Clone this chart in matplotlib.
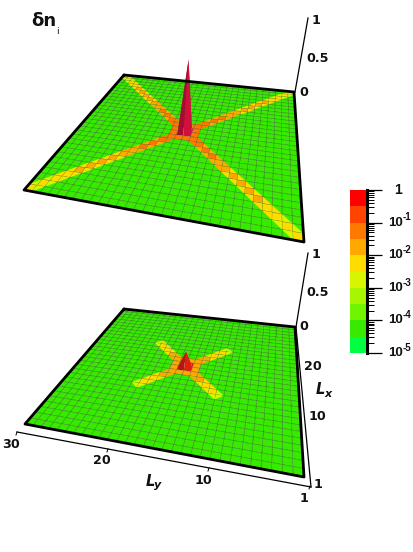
import numpy as np
import matplotlib
matplotlib.use("Agg")
import matplotlib.pyplot as plt
from matplotlib.collections import PolyCollection
from matplotlib.colors import to_rgb
from matplotlib.ticker import LogLocator, NullFormatter

# colour bands of the bar, bottom to top
band_colors = ["#00ff40", "#38ea00", "#70f500", "#a8f500", "#d8f500",
               "#ffdc00", "#ffa800", "#ff7800", "#ff4400", "#ff0000"]
band_edges = [1e-5, 10**-4.5, 1e-4, 10**-3.5, 1e-3, 10**-2.5, 1e-2, 10**-1.5, 1e-1, 10**-0.5, 1]
cbar_ticks = [1e-5, 1e-4, 1e-3, 1e-2, 1e-1]
cbar_exps = ["-5", "-4", "-3", "-2", "-1"]

# log10 of the density along each arm, from the centre out to the corner
arm_top = [0, -0.95, -1.05, -1.15, -1.3, -1.45, -1.55, -1.65, -1.75, -1.85, -1.9, -1.95, -2.05, -2.2, -2.3, -2.35]
arm_bottom = [-0.7, -1.3, -1.55, -1.8, -2.1, -2.35, -4.3, -4.3, -4.3, -4.3, -4.3, -4.3, -4.3, -4.3, -4.3, -4.3]
# log10 of the centre's neighbours on the lattice axes
cross_top = [-1.0, -4.3]
cross_bottom = [-1.9, -4.3]
background = -4.3
fringe_factor = 0.4

n_cells = 30
z_px = 72.0

# plane corners in pixels: back left, back right, front right, front left
top_corners = [(124, 75), (294, 92), (304, 242), (24, 190)]
bottom_corners = [(124, 309), (295, 327), (304, 477), (25, 424)]


def homography(corners):
    src = [(0, 0), (1, 0), (1, 1), (0, 1)]
    A, b = [], []
    for (u, v), (x, y) in zip(src, corners):
        A.append([u, v, 1, 0, 0, 0, -u * x, -v * x])
        A.append([0, 0, 0, u, v, 1, -u * y, -v * y])
        b += [x, y]
    return np.append(np.linalg.solve(A, b), 1).reshape(3, 3)


def build_field(arm, cross):
    field = np.full((n_cells + 1, n_cells + 1), float(background))
    mid = n_cells // 2
    for k, val in enumerate(arm):
        for sr in (-1, 1):
            for sc in (-1, 1):
                field[mid + sr * k, mid + sc * k] = val
    for k, val in enumerate(cross, start=1):
        field[mid + k, mid] = field[mid - k, mid] = val
        field[mid, mid + k] = field[mid, mid - k] = val
    return field


def band_color(val):
    idx = np.searchsorted(band_edges, val) - 1
    return to_rgb(band_colors[int(np.clip(idx, 0, 9))])


def draw_surface(ax, corners, arm, cross, spike_color):
    H = homography(corners)
    field = build_field(arm, cross)
    height = 10.0 ** field
    bg = 10.0 ** background
    uu, vv = np.meshgrid(np.linspace(0, 1, n_cells + 1), np.linspace(0, 1, n_cells + 1))
    w = H[2, 0] * uu + H[2, 1] * vv + H[2, 2]
    px = (H[0, 0] * uu + H[0, 1] * vv + H[0, 2]) / w
    py = (H[1, 0] * uu + H[1, 1] * vv + H[1, 2]) / w
    raised = np.where(height > 0.12, height, 0)
    px = px + 0.05 * z_px * raised
    py = py - z_px * raised

    cells = [(r, c) for r in range(n_cells) for c in range(n_cells)]
    cells.sort(key=lambda rc: (rc[0], -abs(rc[1] - 14.5)))
    polys, faces, edges = [], [], []
    no_edge = (0, 0, 0, 0)
    for r, c in cells:
        ids = [(r, c), (r, c + 1), (r + 1, c + 1), (r + 1, c)]
        polys.append([(px[i], py[i]) for i in ids])
        vals = np.array([height[i] for i in ids])
        top_two = np.sort(vals)
        if max(raised[i] for i in ids) > 0:
            shade = 0.78 if c < n_cells / 2 else 1.0
            faces.append(tuple(shade * x for x in to_rgb(spike_color)))
            edges.append(no_edge)
            continue
        # a cell takes the colour of its second highest corner
        faces.append(band_color(top_two[-2]))
        edges.append((0.05, 0.2, 0.05, 0.4))
        # one high corner only: a triangle at that corner fills the notch in the arm
        if top_two[-1] > 3 * bg and top_two[-2] <= bg:
            k = int(np.argmax(vals))
            tri = [ids[k - 1], ids[k], ids[(k + 1) % 4]]
            polys.append([(px[i], py[i]) for i in tri])
            faces.append(band_color(top_two[-1] * fringe_factor))
            edges.append(no_edge)
    ax.add_collection(PolyCollection(polys, facecolors=faces, edgecolors=edges, linewidths=0.4))
    xs = [p[0] for p in corners] + [corners[0][0]]
    ys = [p[1] for p in corners] + [corners[0][1]]
    ax.plot(xs, ys, color="black", lw=2.0, solid_capstyle="round")


fig = plt.figure(figsize=(4.13, 5.52), dpi=100)
ax = fig.add_axes([0, 0, 1, 1])
ax.set_xlim(0, 413)
ax.set_ylim(552, 0)
ax.axis("off")

draw_surface(ax, top_corners, arm_top, cross_top, "#d2103e")
draw_surface(ax, bottom_corners, arm_bottom, cross_bottom, "#e0200f")

label = dict(fontsize=9.2, fontweight="bold", color="#111111", ha="center", va="center")

# z axes
ax.plot([295, 308], [92, 18], color="black", lw=0.9)
ax.plot([296, 308], [327, 253], color="black", lw=0.9)
for x, y, lab in [(316, 20, "1"), (318, 58, "0.5"), (304, 93, "0"),
                  (316, 254, "1"), (318, 293, "0.5"), (304, 327, "0")]:
    ax.text(x, y, lab, **label)

# lower axes of the bottom panel
ax.plot([296, 311], [327, 487], color="black", lw=0.9)
ax.plot([17, 311], [432, 487], color="black", lw=0.9)
for x, y, lab in [(11, 444, "30"), (102, 461, "20"), (203, 480, "10"), (304, 498, "1")]:
    ax.text(x, y, lab, **label)
    ax.plot([x + 6, x + 5], [y - 12, y - 9], color="black", lw=0.7)
for x, y, lab in [(318, 484, "1"), (317, 417, "10"), (313, 367, "20")]:
    ax.text(x, y, lab, **label)

axis_label = dict(fontweight="bold", fontstyle="italic", color="#111111", ha="center", va="center")
ax.text(150, 481, "L", fontsize=10.5, **axis_label)
ax.text(158, 485, "y", fontsize=8, **axis_label)
ax.text(320, 390, "L", fontsize=10.5, **axis_label)
ax.text(328, 394, "x", fontsize=8, **axis_label)

ax.text(31, 21, "δn", fontsize=13, ha="left", va="center", color="#111111", fontweight="bold")
ax.text(56, 32, "i", fontsize=6.5, ha="left", va="center", color="#111111")

# colour bar
cax = fig.add_axes([350 / 413, 1 - 353 / 552, 17 / 413, 163 / 552])
for lo, hi, col in zip(band_edges[:-1], band_edges[1:], band_colors):
    cax.axhspan(lo, hi, color=col, lw=0)
cax.set_yscale("log")
cax.set_ylim(1e-5, 1)
cax.set_xlim(0, 1)
cax.set_xticks([])
cax.yaxis.tick_right()
cax.set_yticks(cbar_ticks + [1])
cax.set_yticklabels([""] * 6)
cax.tick_params(axis="y", which="major", length=11, width=0.9)
cax.tick_params(axis="y", which="minor", length=5, width=0.7)
cax.yaxis.set_minor_locator(LogLocator(base=10, subs=range(2, 10), numticks=12))
cax.yaxis.set_minor_formatter(NullFormatter())
for name in ("top", "bottom", "left"):
    cax.spines[name].set_visible(False)
cax.spines["right"].set_linewidth(2.2)

trans = cax.get_yaxis_transform()
tick_font = dict(family="Liberation Sans", fontweight="bold", color="#111111", va="center", transform=trans)
for tick, exp in zip(cbar_ticks, cbar_exps):
    cax.text(2.25, tick, "10", fontsize=9.5, ha="left", clip_on=False, **tick_font)
    cax.text(3.1, tick * 1.45, exp, fontsize=7, ha="left", clip_on=False, **tick_font)
cax.text(2.85, 1.0, "1", fontsize=10, ha="center", clip_on=False, **tick_font)

fig.savefig("out.png", dpi=100)
